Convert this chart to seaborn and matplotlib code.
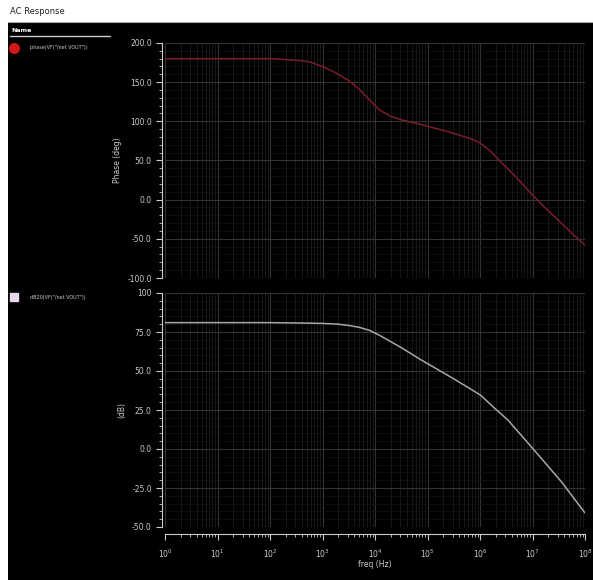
import numpy as np
import pandas as pd
import matplotlib
matplotlib.use("Agg")
import matplotlib.pyplot as plt
import matplotlib.ticker as mticker
import seaborn as sns

# ---- data ----
phase_freq = [1, 10, 100, 316, 562, 1000, 1778, 3162, 5012, 7943, 12000, 19000,
              31600, 56200, 112000, 269000, 661000, 1.02e6, 1.58e6, 2.51e6,
              5.01e6, 9.33e6, 1.78e7, 3.55e7, 6.31e7, 1e8]
phase_deg = [180, 180, 180, 178, 176, 170, 162, 152, 141, 127, 115, 107,
             102, 98, 93, 86, 78, 72, 62, 48,
             28, 8, -11, -30, -46, -58]
mag_freq = [1, 100, 316, 1000, 2000, 3162, 5012, 7943, 12000, 31600, 72400,
            316000, 1.02e6, 1.78e6, 3.39e6, 1.07e7, 3.55e7, 1e8]
mag_db = [81, 81, 80.8, 80.5, 80, 79.2, 78, 76, 73, 65, 57.5,
          45, 34.6, 27, 18.6, -0.6, -21, -41]
phase_name = 'phase(VF("/net VOUT"))'
mag_name = 'dB20(VF("/net VOUT"))'
title = "AC Response"
phase_ylabel = "Phase (deg)"
mag_ylabel = "(dB)"
xlabel = "freq (Hz)"
phase_ticks = [-100, -50, 0, 50, 100, 150, 200]
mag_ticks = [-50, -25, 0, 25, 50, 75, 100]

sns.set_style("dark")
plt.rcParams["font.family"] = ["DejaVu Sans"]

fig = plt.figure(figsize=(5.93, 5.80), dpi=100)
fig.patch.set_facecolor("white")

W, H = 593, 580
def fx(px): return px / W
def fy(py): return 1 - py / H

# black panel
bg = fig.add_axes([fx(8), 0, 1 - fx(8), fy(22)])
bg.set_facecolor("black")
bg.set_xticks([]); bg.set_yticks([])
for s in bg.spines.values():
    s.set_visible(False)
bg.axhline(1, color="#aaaaaa", lw=1.5)

fig.text(fx(10), fy(11), title, fontsize=6, color="#222222", va="center")
fig.text(fx(11), fy(31), "Name", fontsize=4.5, color="white", va="center", weight="bold")
fig.add_artist(plt.Line2D([fx(10), fx(110)], [fy(36), fy(36)], color="#cccccc", lw=1))

# legend entries
fig.add_artist(plt.Line2D([fx(14)], [fy(48)], marker="o", ms=7, color="#d01818", lw=0))
fig.text(fx(30), fy(48), phase_name, fontsize=3.5, color="#cccccc", va="center")
fig.add_artist(plt.Line2D([fx(14)], [fy(297)], marker="s", ms=6, color="#e8d8ec", lw=0))
fig.text(fx(30), fy(297), mag_name, fontsize=3.5, color="#cccccc", va="center")

left, right = fx(165), fx(585)
ax1 = fig.add_axes([left, fy(278), right - left, fy(43) - fy(278)])
ax2 = fig.add_axes([left, fy(527), right - left, fy(293) - fy(527)])

df_p = pd.DataFrame({"freq": phase_freq, "phase": phase_deg})
df_m = pd.DataFrame({"freq": mag_freq, "mag": mag_db})

sns.lineplot(data=df_p, x="freq", y="phase", ax=ax1, color="#7a1c2a", lw=1.1)
sns.lineplot(data=df_m, x="freq", y="mag", ax=ax2, color="#a8a8a8", lw=1.1)

for ax, ticks, lab in [(ax1, phase_ticks, phase_ylabel), (ax2, mag_ticks, mag_ylabel)]:
    ax.set_facecolor("black")
    ax.set_xscale("log")
    ax.set_xlim(1, 1e8)
    ax.set_ylim(ticks[0], ticks[-1])
    ax.set_yticks(ticks)
    ax.yaxis.set_minor_locator(mticker.AutoMinorLocator(5))
    ax.xaxis.set_minor_locator(mticker.LogLocator(base=10, subs=np.arange(2, 10), numticks=20))
    ax.grid(True, which="major", color="#333333", lw=0.8)
    ax.grid(True, which="minor", axis="x", color="#1c1c1c", lw=0.6)
    ax.grid(True, which="minor", axis="y", color="#141414", lw=0.5)
    for s in ax.spines.values():
        s.set_visible(False)
    ax.spines["left"].set_visible(True)
    ax.spines["left"].set_color("#cccccc")
    ax.spines["left"].set_position(("outward", 2))
    ax.tick_params(axis="y", which="major", colors="#cccccc", labelsize=5.5, length=4, width=0.8, left=True)
    ax.tick_params(axis="y", which="minor", colors="#cccccc", length=2, width=0.6, left=True)
    ax.set_ylabel(lab, color="#cccccc", fontsize=5.5, labelpad=4)

ax1.yaxis.set_major_formatter(mticker.FuncFormatter(lambda v, p: f"{v:.1f}"))
ax2.yaxis.set_major_formatter(mticker.FuncFormatter(lambda v, p: "100" if v == 100 else f"{v:.1f}"))

ax1.tick_params(axis="x", which="both", bottom=False, labelbottom=False)
ax1.set_xlabel("")

ax2.spines["bottom"].set_visible(True)
ax2.spines["bottom"].set_color("#cccccc")
ax2.spines["bottom"].set_position(("outward", 5))
ax2.xaxis.set_major_locator(mticker.LogLocator(base=10, numticks=20))
ax2.xaxis.set_major_formatter(mticker.LogFormatterMathtext())
ax2.tick_params(axis="x", which="major", colors="#cccccc", labelsize=5.5, length=4, width=0.8, bottom=True, pad=6)
ax2.tick_params(axis="x", which="minor", colors="#cccccc", length=2, width=0.6, bottom=True)
ax2.set_xlabel(xlabel, color="#cccccc", fontsize=5.5, labelpad=0)

fig.savefig("out.png", dpi=100, facecolor=fig.get_facecolor())
